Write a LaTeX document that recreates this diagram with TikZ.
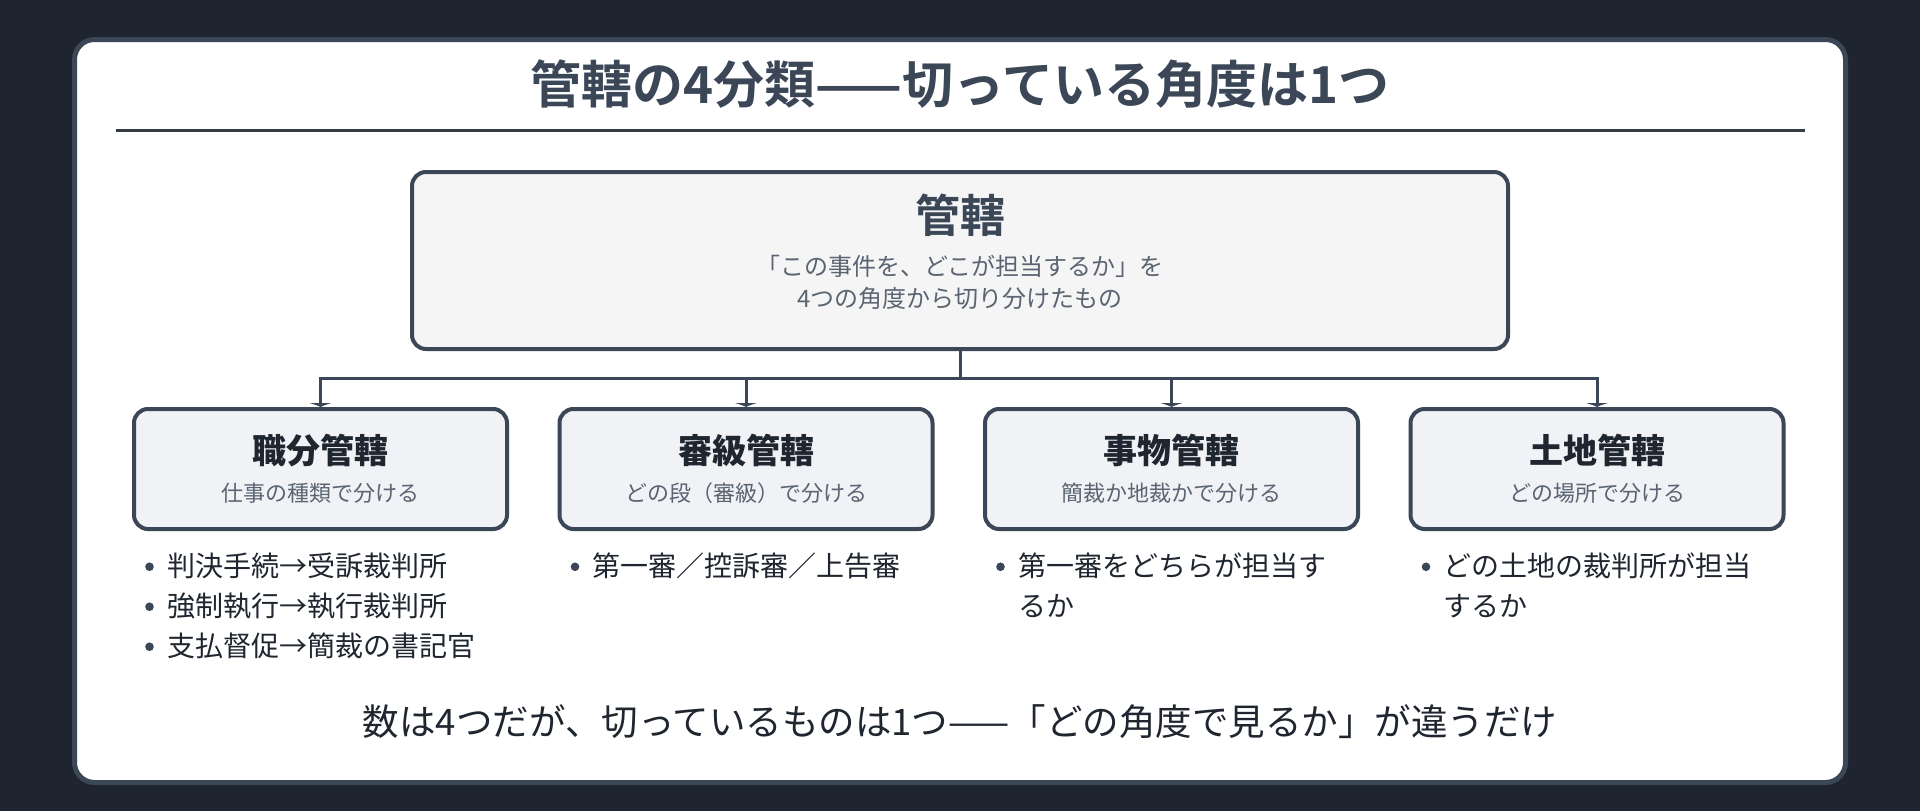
\documentclass[tikz,border=0pt]{standalone}
\usepackage{fontspec}
\setmainfont{Noto Sans CJK JP}[BoldFont={Noto Sans CJK JP Bold}]
\newfontfamily\heavyfont{Noto Sans CJK JP Black}
\usepackage{tikz}
\usetikzlibrary{positioning}
\usetikzlibrary{arrows.meta}

\definecolor{bgdark}{HTML}{1E2530}
\definecolor{slate}{HTML}{3B4657}
\definecolor{ink}{HTML}{1F2630}
\definecolor{greytext}{HTML}{5A6472}
\definecolor{rootfill}{HTML}{F5F5F5}
\definecolor{kindfill}{HTML}{F0F2F5}

% bullet item with a small round dot
\newcommand{\itm}[1]{\makebox[22pt][l]{\raisebox{5.8pt}{\tikz\fill[slate] (0,0) circle (4.3pt);}}#1}

\begin{document}
\begin{tikzpicture}[x=1pt, y=-1pt,
	rootbox/.style={draw=slate, line width=4pt, fill=rootfill, rounded corners=14pt,
		minimum width=1096pt, minimum height=177pt},
	kindbox/.style={draw=slate, line width=4pt, fill=kindfill, rounded corners=14pt,
		minimum width=373pt, minimum height=120pt, align=center, inner sep=0pt,
		font=\fontsize{22}{38}\selectfont},
	kindlist/.style={anchor=north west, inner sep=0pt, align=left, text=ink,
		font=\fontsize{28}{40}\selectfont},
	link/.style={draw=slate, line width=3pt, -{Latex[length=4pt,width=24pt]}}]

	% background and card
	\fill [bgdark] (0,0) rectangle (1920,811);
	\useasboundingbox (0,0) rectangle (1920,811);
	\draw [slate, line width=5pt, fill=white, rounded corners=20pt] (74.5,39.5) rectangle (1845.5,782.5);

	% title with rule
	\node [text=slate, font=\fontsize{51}{60}\selectfont\bfseries] (title) at (960,84) {管轄の4分類——切っている角度は1つ};
	\coordinate (ruleL) at (116,130);
	\coordinate (ruleR) at (1805,130);
	\draw [ink!90, line width=3pt] (ruleL) -- (ruleR);

	% top box
	\node [rootbox] (root) at (960,260.5) {};
	\node [align=center, text=greytext, font=\fontsize{24}{32}\selectfont] (roottxt) at ([yshift=9pt]root.center)
		{{\fontsize{45}{45}\selectfont\bfseries\color{slate}管轄}\\[11pt]
		 「この事件を、どこが担当するか」を\\
		 4つの角度から切り分けたもの};

	% four kinds
	\node [kindbox] (k1) at (320.5,469)
		{{\fontsize{34}{38}\selectfont\heavyfont\color{ink}職分管轄}\\ \color{greytext}仕事の種類で分ける};
	\node [kindbox, right=48.5pt of k1] (k2)
		{{\fontsize{34}{38}\selectfont\heavyfont\color{ink}審級管轄}\\ \color{greytext}どの段（審級）で分ける};
	\node [kindbox, right=48.5pt of k2] (k3)
		{{\fontsize{34}{38}\selectfont\heavyfont\color{ink}事物管轄}\\ \color{greytext}簡裁か地裁かで分ける};
	\node [kindbox, right=48.5pt of k3] (k4)
		{{\fontsize{34}{38}\selectfont\heavyfont\color{ink}土地管轄}\\ \color{greytext}どの場所で分ける};

	% connectors
	\draw [link] (root.south) -- ++(0,27) -| (k1.north);
	\draw [link] (root.south) -- ++(0,27) -| (k2.north);
	\draw [link] (root.south) -- ++(0,27) -| (k3.north);
	\draw [link] (root.south) -- ++(0,27) -| (k4.north);

	% bullet lists under the boxes
	\node [kindlist] (l1) at ([xshift=13pt,yshift=-22pt]k1.south west)
		{\itm{判決手続→受訴裁判所}\\ \itm{強制執行→執行裁判所}\\ \itm{支払督促→簡裁の書記官}};
	\node [kindlist] (l2) at ([xshift=13pt,yshift=-22pt]k2.south west)
		{\itm{第一審／控訴審／上告審}};
	\node [kindlist] (l3) at ([xshift=13pt,yshift=-22pt]k3.south west)
		{\itm{第一審をどちらが担当す}\\ \hspace*{22pt}るか};
	\node [kindlist] (l4) at ([xshift=13pt,yshift=-22pt]k4.south west)
		{\itm{どの土地の裁判所が担当}\\ \hspace*{22pt}するか};

	% closing remark
	\node [text=ink, font=\fontsize{36.5}{40}\selectfont] (remark) at (960,722)
		{数は4つだが、切っているものは1つ——「どの角度で見るか」が違うだけ};

\end{tikzpicture}
\end{document}
